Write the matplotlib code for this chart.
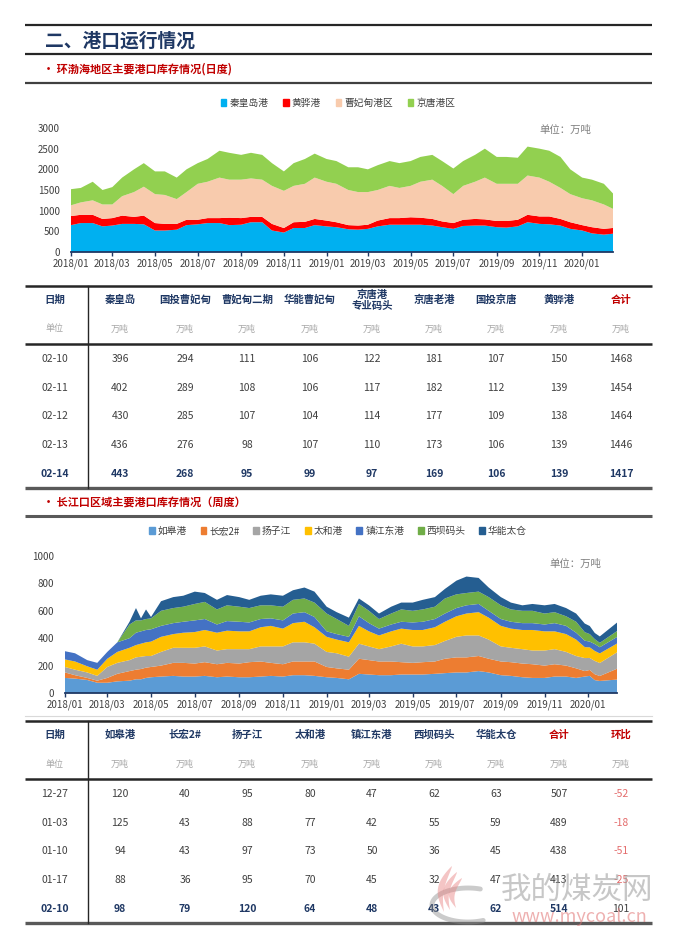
import numpy as np
import pandas as pd
import matplotlib
matplotlib.use('Agg')
import matplotlib.pyplot as plt
import matplotlib.dates as mdates
from matplotlib.patches import Patch

plt.rcParams['font.family'] = ['Noto Sans CJK SC', 'DejaVu Sans']

bohai_dates = pd.to_datetime([
    '2018-01-01', '2018-01-15', '2018-02-01', '2018-02-15', '2018-03-01', '2018-03-15',
    '2018-04-01', '2018-04-15', '2018-05-01', '2018-05-15', '2018-06-01', '2018-06-15',
    '2018-07-01', '2018-07-15', '2018-08-01', '2018-08-15', '2018-09-01', '2018-09-15',
    '2018-10-01', '2018-10-15', '2018-11-01', '2018-11-15', '2018-12-01', '2018-12-15',
    '2019-01-01', '2019-01-15', '2019-02-01', '2019-02-15', '2019-03-01', '2019-03-15',
    '2019-04-01', '2019-04-15', '2019-05-01', '2019-05-15', '2019-06-01', '2019-06-15',
    '2019-07-01', '2019-07-15', '2019-08-01', '2019-08-15', '2019-09-01', '2019-09-15',
    '2019-10-01', '2019-10-15', '2019-11-01', '2019-11-15', '2019-12-01', '2019-12-15',
    '2020-01-01', '2020-01-15', '2020-02-01', '2020-02-14'])
qinhuangdao = [650, 700, 700, 620, 640, 680, 680, 670, 520, 520, 540, 650, 670, 700, 700, 650,
               660, 720, 720, 520, 470, 580, 580, 650, 620, 600, 550, 540, 560, 620, 660, 660,
               660, 660, 640, 600, 560, 630, 640, 640, 600, 590, 620, 720, 680, 670, 640, 560,
               520, 450, 420, 443]
huanghua = [220, 200, 200, 180, 180, 200, 170, 210, 180, 160, 140, 130, 110, 120, 120, 180,
            160, 130, 130, 160, 110, 140, 150, 150, 140, 120, 100, 100, 100, 140, 160, 160,
            180, 170, 160, 140, 140, 150, 160, 150, 150, 160, 160, 180, 180, 190, 160, 160,
            130, 150, 140, 139]
caofeidian = [260, 300, 350, 350, 330, 470, 600, 700, 700, 700, 600, 670, 870, 880, 980, 920,
              930, 930, 900, 920, 900, 880, 920, 1000, 940, 930, 850, 810, 790, 740, 780, 730,
              760, 870, 950, 860, 700, 820, 900, 1010, 900, 900, 870, 950, 940, 840, 750, 680,
              650, 650, 590, 462]
jingtang = [390, 350, 450, 350, 420, 450, 550, 570, 550, 570, 520, 550, 500, 550, 650, 650,
            600, 620, 600, 550, 470, 550, 600, 580, 550, 550, 550, 600, 550, 600, 600, 600,
            600, 600, 600, 600, 620, 600, 650, 700, 650, 650, 630, 700, 700, 750, 750, 600,
            500, 500, 500, 372]
bohai_names = ['秦皇岛港', '黄骅港', '曹妃甸港区', '京唐港区']
bohai_colors = ['#00B0F0', '#FF0000', '#F8CBAD', '#92D050']

# ─── 长江口区域 (周度) ─────────────────────────────────────────────────────────
cj_dates = pd.to_datetime([
    '2018-01-01', '2018-01-15', '2018-02-01', '2018-02-15', '2018-03-01', '2018-03-15',
    '2018-04-01', '2018-04-10', '2018-04-17', '2018-04-24', '2018-05-01', '2018-05-15',
    '2018-06-01', '2018-06-15', '2018-07-01', '2018-07-15', '2018-08-01', '2018-08-15',
    '2018-09-01', '2018-09-15', '2018-10-01', '2018-10-15', '2018-11-01', '2018-11-15',
    '2018-12-01', '2018-12-15', '2019-01-01', '2019-01-15', '2019-02-01', '2019-02-15',
    '2019-03-01', '2019-03-15', '2019-04-01', '2019-04-15', '2019-05-01', '2019-05-15',
    '2019-06-01', '2019-06-15', '2019-07-01', '2019-07-15', '2019-08-01', '2019-08-15',
    '2019-09-01', '2019-09-15', '2019-10-01', '2019-10-15', '2019-11-01', '2019-11-15',
    '2019-12-01', '2019-12-15', '2019-12-27', '2020-01-03', '2020-01-10', '2020-01-17',
    '2020-02-10'])
rugao = [110, 105, 95, 75, 75, 85, 90, 100, 100, 110, 115, 120, 125, 120, 120, 125, 115, 120,
         115, 115, 120, 125, 120, 130, 130, 125, 115, 110, 100, 140, 135, 130, 130, 135, 135,
         135, 140, 145, 150, 150, 160, 150, 130, 125, 115, 110, 110, 120, 120, 110,
         120, 125, 94, 88, 98]
changhong = [40, 25, 15, 15, 35, 55, 70, 70, 75, 75, 75, 80, 95, 100, 95, 100, 95, 100, 100,
             110, 110, 95, 90, 100, 100, 105, 75, 70, 70, 110, 105, 100, 100, 90, 85, 90, 90,
             105, 110, 110, 110, 100, 100, 100, 100, 100, 90, 90, 80, 70,
             40, 43, 43, 36, 79]
yangzijiang = [40, 40, 40, 35, 80, 80, 80, 90, 90, 85, 80, 100, 110, 110, 115, 115, 100, 100,
               105, 95, 110, 120, 130, 140, 140, 130, 110, 110, 95, 110, 100, 90, 110, 135, 120,
               115, 120, 130, 150, 160, 150, 140, 110, 105, 105, 100, 110, 110, 100, 90,
               95, 88, 97, 95, 120]
taihe = [55, 60, 45, 45, 60, 80, 90, 90, 95, 100, 105, 110, 100, 110, 115, 120, 130, 135, 130,
         130, 140, 150, 130, 140, 150, 120, 110, 100, 105, 130, 110, 100, 110, 110, 120, 120,
         130, 140, 150, 160, 170, 160, 150, 140, 140, 150, 140, 130, 130, 120,
         80, 77, 73, 70, 64]
zhenjiang = [60, 60, 45, 50, 50, 70, 70, 90, 90, 90, 90, 80, 80, 80, 85, 80, 60, 70, 70, 65,
             60, 55, 60, 70, 70, 75, 40, 40, 40, 70, 60, 50, 50, 50, 55, 60, 60, 60, 60, 60, 60,
             50, 50, 50, 50, 50, 50, 60, 60, 50,
             47, 42, 50, 45, 48]
xiba = [0, 0, 0, 0, 0, 0, 100, 90, 80, 80, 80, 110, 110, 110, 120, 125, 110, 115, 110, 105,
        100, 95, 100, 100, 100, 105, 130, 110, 80, 90, 90, 70, 80, 90, 85, 90, 90, 110, 100, 90,
        90, 100, 100, 90, 90, 90, 80, 80, 70, 80,
        62, 55, 36, 32, 43]
huaneng = [0, 0, 0, 0, 0, 0, 20, 90, 15, 70, 10, 70, 80, 80, 90, 65, 70, 75, 70, 60, 70, 80,
           80, 70, 80, 80, 50, 50, 60, 40, 40, 40, 50, 50, 60, 70, 70, 70, 100, 120, 100, 70,
           60, 50, 40, 50, 60, 60, 60, 60,
           63, 59, 45, 47, 62]
cj_names = ['如皋港', '长宏2#', '扬子江', '太和港', '镇江东港', '西坝码头', '华能太仓']
cj_colors = ['#5B9BD5', '#ED7D31', '#A5A5A5', '#FFC000', '#4472C4', '#70AD47', '#255E91']

# ─── tables ───────────────────────────────────────────────────────────────────
t1_header = ['日期', '秦皇岛', '国投曹妃甸', '曹妃甸二期', '华能曹妃甸', '京唐港\n专业码头',
             '京唐老港', '国投京唐', '黄骅港', '合计']
t1_dates = ['02-10', '02-11', '02-12', '02-13', '02-14']
t1_values = [[396, 294, 111, 106, 122, 181, 107, 150, 1468],
             [402, 289, 108, 106, 117, 182, 112, 139, 1454],
             [430, 285, 107, 104, 114, 177, 109, 138, 1464],
             [436, 276, 98, 107, 110, 173, 106, 139, 1446],
             [443, 268, 95, 99, 97, 169, 106, 139, 1417]]
t2_header = ['日期', '如皋港', '长宏2#', '扬子江', '太和港', '镇江东港', '西坝码头', '华能太仓',
             '合计', '环比']
t2_dates = ['12-27', '01-03', '01-10', '01-17', '02-10']
t2_values = [[120, 40, 95, 80, 47, 62, 63, 507, -52],
             [125, 43, 88, 77, 42, 55, 59, 489, -18],
             [94, 43, 97, 73, 50, 36, 45, 438, -51],
             [88, 36, 95, 70, 45, 32, 47, 413, -25],
             [98, 79, 120, 64, 48, 43, 62, 514, 101]]

NAVY = '#1F3864'
DARK = '#404040'
GREY = '#A6A6A6'
RED = '#C00000'
W, H = 673, 936

fig = plt.figure(figsize=(W / 100, H / 100), dpi=100, facecolor='white')

# background layer in pixel coordinates for the report furniture
bg = fig.add_axes([0, 0, 1, 1])
bg.set_xlim(0, W)
bg.set_ylim(H, 0)
bg.axis('off')


def hline(y, lw=1.5, color='#262626'):
    bg.plot([25, 652], [y, y], color=color, lw=lw, solid_capstyle='butt')


hline(25, 1.6)
bg.text(45, 41, '二、港口运行情况', fontsize=13.5, fontweight='bold', color=NAVY, va='center')
hline(54, 1.6)
bg.text(43, 69, '• 环渤海地区主要港口库存情况(日度)', fontsize=8, fontweight='bold',
        color=RED, va='center')
hline(83, 1.6, '#404040')

hline(516, 2.2, '#595959')
bg.text(43, 502, '• 长江口区域主要港口库存情况（周度）', fontsize=8, fontweight='bold',
        color=RED, va='center')

col_x = [55, 120, 185, 247, 310, 372, 434, 496, 559, 621]


def draw_table(top, header, dates, values, red_cols, signed_col=None):
    hline(top, 1.8, '#262626')
    hy = top + 14
    for i, (x, h) in enumerate(zip(col_x, header)):
        c = RED if i in red_cols else NAVY
        bg.text(x, hy, h, fontsize=7.5, fontweight='bold', color=c, ha='center', va='center',
                linespacing=1.1)
        bg.text(x, top + 43, '单位' if i == 0 else '万吨', fontsize=6.5, color=GREY,
                ha='center', va='center')
    hline(top + 58, 1.8, '#262626')
    row_y = [top + 73 + k * 28.7 for k in range(len(dates))]
    for r, (d, vals) in enumerate(zip(dates, values)):
        last = r == len(dates) - 1
        wt = 'bold' if last else 'normal'
        col = NAVY if last else DARK
        bg.text(col_x[0], row_y[r], d, fontsize=7.5, fontweight=wt, color=col,
                ha='center', va='center')
        for j, v in enumerate(vals):
            c, w = col, wt
            if signed_col is not None and j + 1 == signed_col:
                c = '#E46C6C' if v < 0 else DARK
                w = 'normal'
            bg.text(col_x[j + 1], row_y[r], f'{v}', fontsize=7.5, fontweight=w, color=c,
                    ha='center', va='center')
    bottom = top + 202
    hline(bottom, 2.4, '#595959')
    bg.plot([88, 88], [top, bottom], color='#262626', lw=1.0)


draw_table(286, t1_header, t1_dates, t1_values, red_cols=[9])
draw_table(721, t2_header, t2_dates, t2_values, red_cols=[8, 9], signed_col=9)
bg.plot([25, 652], [716, 716], color='#D9D9D9', lw=0.8)

# watermark: grey swoosh, pink flame tongues, site name
a = np.radians(np.linspace(70, 295, 80))
bg.plot(468 + 36 * np.cos(a), 905 - 17 * np.sin(a), color='#8C8C8C', lw=3.5, alpha=0.45,
        solid_capstyle='round', zorder=9)
t = np.linspace(0, 1, 40)
for k in range(3):
    bx, by = 444 + k * 6, 912 - k * 2
    tx, ty = 452 + k * 5, 866 + k * 6
    cx = bx + (tx - bx) * t - 7 * np.sin(np.pi * t)
    cy = by + (ty - by) * t
    w = 3.2 * np.sin(np.pi * (1 - t) ** 0.8)
    bg.fill(np.r_[cx - w, (cx + w)[::-1]], np.r_[cy, cy[::-1]], color='#E88080',
            alpha=0.45, lw=0, zorder=9)
bg.text(577, 890, '我的煤炭网', fontsize=22, color='#9A9A9A', alpha=0.55,
        ha='center', va='center', zorder=10)
bg.text(579, 917, 'www.mycoal.cn', fontsize=13, color='#E07070', alpha=0.55,
        ha='center', va='center', zorder=10)


def style_axis(ax, ymax, ystep, xend):
    ax.set_ylim(0, ymax)
    ax.set_yticks(np.arange(0, ymax + 1, ystep))
    ax.set_xlim(pd.Timestamp('2018-01-01'), pd.Timestamp(xend))
    ax.xaxis.set_major_locator(mdates.MonthLocator(bymonth=[1, 3, 5, 7, 9, 11]))
    ax.xaxis.set_major_formatter(mdates.DateFormatter('%Y/%m'))
    for s in ['top', 'right', 'left']:
        ax.spines[s].set_visible(False)
    ax.spines['bottom'].set_color(NAVY)
    ax.spines['bottom'].set_linewidth(1.3)
    ax.tick_params(axis='x', length=3, width=1, color=NAVY, labelsize=7, labelcolor=DARK, pad=2)
    ax.tick_params(axis='y', length=0, labelsize=7, labelcolor=DARK, pad=8)
    ax.patch.set_alpha(0)


# ─── chart 1 ──────────────────────────────────────────────────────────────────
ax1 = fig.add_axes([71 / W, 1 - 252 / H, 542 / W, 124 / H])
ax1.stackplot(bohai_dates, qinhuangdao, huanghua, caofeidian, jingtang,
              colors=bohai_colors, linewidth=0)
style_axis(ax1, 3000, 500, '2020-02-14')
ax1.text(565 / W, 1 - 130 / H, '单位：万吨', transform=fig.transFigure, fontsize=7.5,
         color='#7F7F7F', ha='center', va='center')
fig.legend(handles=[Patch(color=c, label=n) for n, c in zip(bohai_names, bohai_colors)],
           loc='center', bbox_to_anchor=(338 / W, 1 - 103 / H), ncol=4, frameon=False,
           fontsize=7, handlelength=0.6, handleheight=0.6, handletextpad=0.3,
           columnspacing=1.5, labelcolor=DARK)

# ─── chart 2 ──────────────────────────────────────────────────────────────────
ax2 = fig.add_axes([65 / W, 1 - 693 / H, 552 / W, 137 / H])
ax2.stackplot(cj_dates, rugao, changhong, yangzijiang, taihe, zhenjiang, xiba, huaneng,
              colors=cj_colors, linewidth=0)
style_axis(ax2, 1000, 200, '2020-02-10')
ax2.text(575 / W, 1 - 564 / H, '单位：万吨', transform=fig.transFigure, fontsize=7.5,
         color='#7F7F7F', ha='center', va='center')
fig.legend(handles=[Patch(color=c, label=n) for n, c in zip(cj_names, cj_colors)],
           loc='center', bbox_to_anchor=(338 / W, 1 - 531 / H), ncol=7, frameon=False,
           fontsize=7, handlelength=0.6, handleheight=0.6, handletextpad=0.3,
           columnspacing=1.4, labelcolor=DARK)

fig.savefig('out.png', dpi=100, facecolor='white')
